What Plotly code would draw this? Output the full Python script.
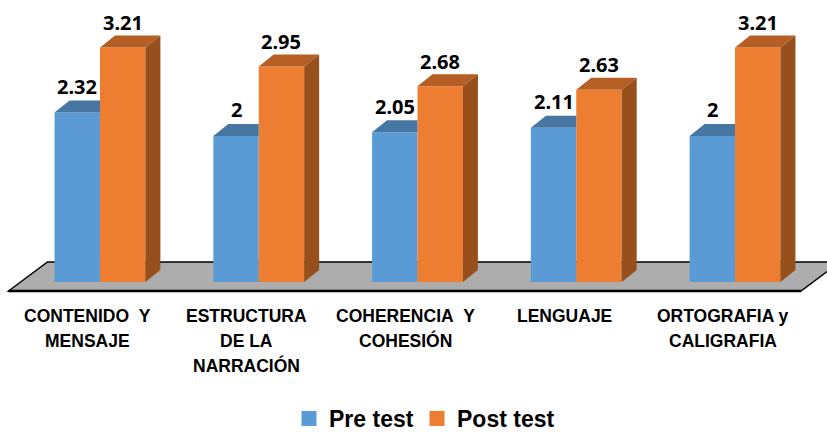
import plotly.graph_objects as go

categories = [["CONTENIDO\u00a0\u00a0Y", "MENSAJE"], ["ESTRUCTURA", "DE LA", "NARRACIÓN"],
              ["COHERENCIA\u00a0\u00a0Y", "COHESIÓN"], ["LENGUAJE"], ["ORTOGRAFIA y", "CALIGRAFIA"]]
pre_test = [2.32, 2, 2.05, 2.11, 2]
post_test = [3.21, 2.95, 2.68, 2.63, 3.21]
positions = [0, 1, 2, 3, 4]

BLUE, BLUE_TOP = "#5B9BD5", "#4776A3"
ORANGE, ORANGE_TOP, ORANGE_SIDE = "#ED7D31", "#B65F24", "#97501C"

W, H = 827, 432
L, R, T, B = 20.6, 12.6, 0, 150
ymax = 3.86
GAP = 0.428
w = (1 - GAP) / 2
px_x = (W - L - R) / 5
px_y = (H - T - B) / ymax
dx, dy = 15 / px_x, 12 / px_y

fig = go.Figure()
fig.add_bar(x=positions, y=pre_test, name="Pre test", marker=dict(color=BLUE, line=dict(width=0)), showlegend=False, hoverinfo="skip")
fig.add_bar(x=positions, y=post_test, name="Post test", marker=dict(color=ORANGE, line=dict(width=0)), showlegend=False, hoverinfo="skip")


def poly(xs, ys, color):
    fig.add_scatter(x=xs, y=ys, mode="lines", fill="toself", fillcolor=color,
                    line=dict(width=0, color=color), showlegend=False, hoverinfo="skip")


for p, a, b in zip(positions, pre_test, post_test):
    poly([p - w, p - w + dx, p, p, p - w], [a, a + dy, a + dy, a, a], BLUE_TOP)
    poly([p, p + dx, p + w + dx, p + w, p], [b, b + dy, b + dy, b, b], ORANGE_TOP)
    poly([p + w, p + w + dx, p + w + dx, p + w, p + w], [0, dy, b + dy, b, 0], ORANGE_SIDE)

# legend entries
fig.add_scatter(x=[None], y=[None], mode="markers", name="Pre test",
                marker=dict(symbol="square", size=15, color=BLUE))
fig.add_scatter(x=[None], y=[None], mode="markers", name="Post test", legend="legend2",
                marker=dict(symbol="square", size=15, color=ORANGE))


def fx(px):
    return px / W


def fy(px):
    return 1 - px / H


# floor
fl = [(8.5, 291), (47.5, 262), (840, 262), (801, 291)]
fig.add_shape(type="path", xref="paper", yref="paper", layer="below",
              path="M" + " L".join(f"{fx(x)},{fy(y)}" for x, y in fl) + " Z",
              fillcolor="#ADADAD", line=dict(color="black", width=1.5))
fig.add_shape(type="line", xref="paper", yref="paper", layer="below",
              x0=fx(8.5), x1=fx(801), y0=fy(291), y1=fy(291), line=dict(color="black", width=2.5))

anns = []
LABEL_FONT = dict(family="Noto Sans", size=20, color="black", weight="bold")
for p, a, b in zip(positions, pre_test, post_test):
    anns.append(dict(x=p - w / 2, y=a, text=str(a), showarrow=False, yanchor="middle", yshift=26, font=LABEL_FONT))
    anns.append(dict(x=p + w / 2, y=b, text=str(b), showarrow=False, yanchor="middle", yshift=25, font=LABEL_FONT))
CAT_FONT = dict(family="Liberation Sans", size=17.5, color="black", weight="bold")
for p, lines in zip(positions, categories):
    for i, line in enumerate(lines):
        anns.append(dict(x=p, y=0, text=line, showarrow=False, yanchor="middle", xshift=-12,
                         yshift=-(34 + 24.5 * i), font=CAT_FONT))

LEG_FONT = dict(family="Liberation Sans", size=23, color="black", weight="bold")
fig.update_layout(
    width=W, height=H, margin=dict(l=0, r=0, t=0, b=0, pad=0, autoexpand=False),
    paper_bgcolor="white", plot_bgcolor="rgba(0,0,0,0)",
    barmode="group", bargap=GAP, bargroupgap=0,
    xaxis=dict(range=[-0.5, 4.5], visible=False, fixedrange=True, domain=[L / W, 1 - R / W]),
    yaxis=dict(range=[0, ymax], visible=False, fixedrange=True, domain=[B / H, 1 - T / H]),
    legend=dict(orientation="h", x=fx(289), xanchor="left", y=fy(397), yanchor="top",
                font=LEG_FONT, bgcolor="rgba(0,0,0,0)"),
    legend2=dict(orientation="h", x=fx(417), xanchor="left", y=fy(397), yanchor="top",
                 font=LEG_FONT, bgcolor="rgba(0,0,0,0)"),
    annotations=anns,
)
fig.write_html("out.html", post_script="document.body.style.margin='0';", config=dict(displayModeBar=False))
